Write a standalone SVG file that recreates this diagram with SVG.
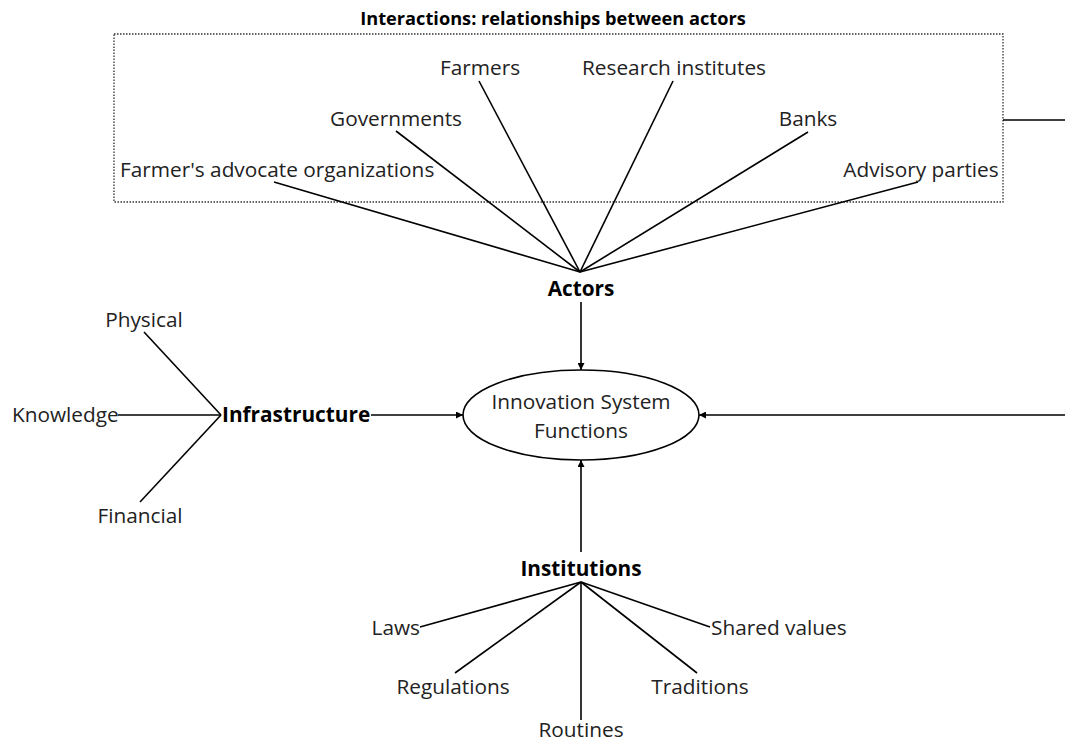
<svg xmlns="http://www.w3.org/2000/svg" width="1065" height="743" viewBox="0 0 1065 743">
<defs>
<style>
.lbl{font-family:"Open Sans","Liberation Sans",sans-serif;font-size:20.8px;fill:#222}
.bold{font-family:"Open Sans","Liberation Sans",sans-serif;font-size:20.8px;font-weight:bold;fill:#000}
.title{font-family:"Open Sans","Liberation Sans",sans-serif;font-size:18.2px;font-weight:bold;fill:#000}
.ln{stroke:#000;stroke-width:1.6;fill:none}
</style>
<marker id="ah" viewBox="0 0 10 10" refX="10" refY="5" markerWidth="7" markerHeight="7" markerUnits="userSpaceOnUse" orient="auto">
<path d="M0,0 L10,5 L0,10 z" fill="#000"/>
</marker>
</defs>
<rect width="1065" height="743" fill="#fff"/>
<g id="interactions">
<rect x="114" y="34" width="889" height="168" fill="none" stroke="#333" stroke-width="1.3" stroke-dasharray="1.5 1.5"/>
<text class="title" x="553" y="25" text-anchor="middle">Interactions: relationships between actors</text>
</g>
<g id="connectors">
<line class="ln" x1="274" y1="182" x2="580" y2="272"/>
<line class="ln" x1="396" y1="131" x2="580" y2="272"/>
<line class="ln" x1="479" y1="81" x2="580" y2="272"/>
<line class="ln" x1="673" y1="81" x2="580" y2="272"/>
<line class="ln" x1="808" y1="132" x2="580" y2="272"/>
<line class="ln" x1="918" y1="182" x2="580" y2="272"/>
<line class="ln" x1="581" y1="302" x2="581" y2="370" marker-end="url(#ah)"/>
<line class="ln" x1="144" y1="332" x2="221" y2="415"/>
<line class="ln" x1="118" y1="415" x2="221" y2="415"/>
<line class="ln" x1="140" y1="502" x2="221" y2="415"/>
<line class="ln" x1="371" y1="415" x2="463" y2="415" marker-end="url(#ah)"/>
<path class="ln" d="M1003,120 H1080 V415 H699" marker-end="url(#ah)"/>
<line class="ln" x1="581" y1="552" x2="581" y2="460" marker-end="url(#ah)"/>
<line class="ln" x1="420" y1="627" x2="581" y2="582"/>
<line class="ln" x1="455" y1="673" x2="581" y2="582"/>
<line class="ln" x1="581" y1="720" x2="581" y2="582"/>
<line class="ln" x1="697" y1="673" x2="581" y2="582"/>
<line class="ln" x1="710" y1="627" x2="581" y2="582"/>
</g>
<g id="farmers-advocate"><text class="lbl" x="120" y="177">Farmer's advocate organizations</text></g>
<g id="governments"><text class="lbl" x="396" y="126" text-anchor="middle">Governments</text></g>
<g id="farmers"><text class="lbl" x="480" y="75" text-anchor="middle">Farmers</text></g>
<g id="research"><text class="lbl" x="674" y="75" text-anchor="middle">Research institutes</text></g>
<g id="banks"><text class="lbl" x="808" y="126" text-anchor="middle">Banks</text></g>
<g id="advisory"><text class="lbl" x="921" y="177" text-anchor="middle">Advisory parties</text></g>
<g id="actors"><text class="bold" x="581" y="296" text-anchor="middle">Actors</text></g>
<g id="isf">
<ellipse cx="581" cy="415" rx="118" ry="45" fill="#fff" stroke="#000" stroke-width="1.6"/>
<text class="lbl" x="581" y="409" text-anchor="middle">Innovation System</text>
<text class="lbl" x="581" y="438" text-anchor="middle">Functions</text>
</g>
<g id="infrastructure"><text class="bold" x="222" y="422">Infrastructure</text></g>
<g id="physical"><text class="lbl" x="144" y="327" text-anchor="middle">Physical</text></g>
<g id="knowledge"><text class="lbl" x="12" y="422">Knowledge</text></g>
<g id="financial"><text class="lbl" x="140" y="523" text-anchor="middle">Financial</text></g>
<g id="institutions"><text class="bold" x="581" y="576" text-anchor="middle">Institutions</text></g>
<g id="laws"><text class="lbl" x="420" y="635" text-anchor="end">Laws</text></g>
<g id="regulations"><text class="lbl" x="453" y="694" text-anchor="middle">Regulations</text></g>
<g id="routines"><text class="lbl" x="581" y="737" text-anchor="middle">Routines</text></g>
<g id="traditions"><text class="lbl" x="700" y="694" text-anchor="middle">Traditions</text></g>
<g id="shared-values"><text class="lbl" x="711" y="635">Shared values</text></g>
</svg>
